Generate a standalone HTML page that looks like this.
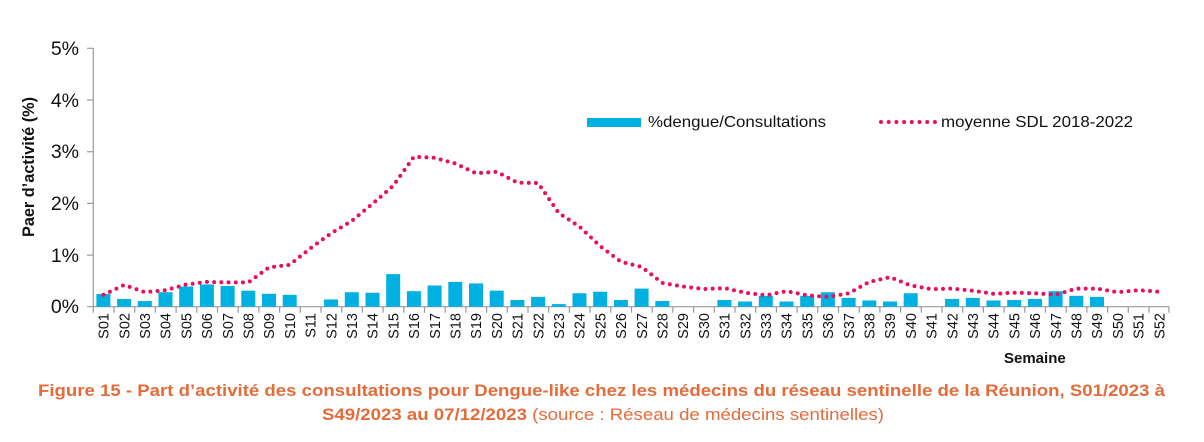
<!DOCTYPE html>
<html><head><meta charset="utf-8"><style>
html,body{margin:0;padding:0;background:#fff;}
svg{display:block;}
text{font-family:"Liberation Sans",sans-serif;}
</style></head><body>
<svg width="1204" height="442" viewBox="0 0 1204 442" xmlns="http://www.w3.org/2000/svg">
<g stroke="#9a9a9a" stroke-width="1.2" fill="none">
<line x1="93.3" y1="48" x2="93.3" y2="307"/>
<line x1="87" y1="48.3" x2="93.3" y2="48.3"/>
<line x1="87" y1="100" x2="93.3" y2="100"/>
<line x1="87" y1="151.7" x2="93.3" y2="151.7"/>
<line x1="87" y1="203.4" x2="93.3" y2="203.4"/>
<line x1="87" y1="255.1" x2="93.3" y2="255.1"/>
<line x1="87" y1="306.7" x2="1169" y2="306.7"/>
<path d="M93.3 306.7v6M114 306.7v6M134.7 306.7v6M155.4 306.7v6M176.1 306.7v6M196.8 306.7v6M217.5 306.7v6M238.2 306.7v6M258.9 306.7v6M279.6 306.7v6M300.3 306.7v6M321 306.7v6M341.7 306.7v6M362.4 306.7v6M383.1 306.7v6M403.8 306.7v6M424.5 306.7v6M445.2 306.7v6M465.9 306.7v6M486.6 306.7v6M507.3 306.7v6M528 306.7v6M548.7 306.7v6M569.4 306.7v6M590.1 306.7v6M610.8 306.7v6M631.5 306.7v6M652.2 306.7v6M672.9 306.7v6M693.6 306.7v6M714.3 306.7v6M735 306.7v6M755.7 306.7v6M776.4 306.7v6M797.1 306.7v6M817.8 306.7v6M838.5 306.7v6M859.2 306.7v6M879.9 306.7v6M900.6 306.7v6M921.3 306.7v6M942 306.7v6M962.7 306.7v6M983.4 306.7v6M1004.1 306.7v6M1024.8 306.7v6M1045.5 306.7v6M1066.2 306.7v6M1086.9 306.7v6M1107.6 306.7v6M1128.3 306.7v6M1149 306.7v6M1169 306.7v6"/>
</g>
<g font-size="19.5" fill="#111" text-anchor="end">
<text x="79" y="55">5%</text>
<text x="79" y="107">4%</text>
<text x="79" y="158">3%</text>
<text x="79" y="210">2%</text>
<text x="79" y="262">1%</text>
<text x="79" y="313">0%</text>
</g>
<text transform="translate(34,167) rotate(-90)" text-anchor="middle" font-size="16.5" font-weight="bold" fill="#111" textLength="140" lengthAdjust="spacingAndGlyphs">Paer d’activité (%)</text>
<g fill="#00B0E0" transform="translate(0,306.7) scale(1,-51.7)">
<rect x="96.4" width="14" height="0.245"/>
<rect x="117.1" width="14" height="0.15"/>
<rect x="137.8" width="14" height="0.11"/>
<rect x="158.5" width="14" height="0.28"/>
<rect x="179.2" width="14" height="0.39"/>
<rect x="199.9" width="14" height="0.43"/>
<rect x="220.6" width="14" height="0.40"/>
<rect x="241.3" width="14" height="0.31"/>
<rect x="262" width="14" height="0.25"/>
<rect x="282.7" width="14" height="0.23"/>
<rect x="324.1" width="14" height="0.14"/>
<rect x="344.8" width="14" height="0.28"/>
<rect x="365.5" width="14" height="0.27"/>
<rect x="386.2" width="14" height="0.63"/>
<rect x="406.9" width="14" height="0.30"/>
<rect x="427.6" width="14" height="0.41"/>
<rect x="448.3" width="14" height="0.48"/>
<rect x="469" width="14" height="0.45"/>
<rect x="489.7" width="14" height="0.31"/>
<rect x="510.4" width="14" height="0.13"/>
<rect x="531.1" width="14" height="0.19"/>
<rect x="551.8" width="14" height="0.05"/>
<rect x="572.5" width="14" height="0.26"/>
<rect x="593.2" width="14" height="0.29"/>
<rect x="613.9" width="14" height="0.13"/>
<rect x="634.6" width="14" height="0.35"/>
<rect x="655.3" width="14" height="0.11"/>
<rect x="717.4" width="14" height="0.13"/>
<rect x="738.1" width="14" height="0.10"/>
<rect x="758.8" width="14" height="0.21"/>
<rect x="779.5" width="14" height="0.10"/>
<rect x="800.2" width="14" height="0.21"/>
<rect x="820.9" width="14" height="0.28"/>
<rect x="841.6" width="14" height="0.17"/>
<rect x="862.3" width="14" height="0.12"/>
<rect x="883" width="14" height="0.10"/>
<rect x="903.7" width="14" height="0.26"/>
<rect x="945.1" width="14" height="0.15"/>
<rect x="965.8" width="14" height="0.17"/>
<rect x="986.5" width="14" height="0.12"/>
<rect x="1007.2" width="14" height="0.13"/>
<rect x="1027.9" width="14" height="0.15"/>
<rect x="1048.6" width="14" height="0.30"/>
<rect x="1069.3" width="14" height="0.21"/>
<rect x="1090" width="14" height="0.19"/>
</g>
<polyline fill="none" stroke="#E8105E" stroke-width="4" stroke-linecap="round" stroke-linejoin="round" stroke-dasharray="0 7.2" points="103.4,294.8 124.1,285 144.8,292.2 165.5,290.2 186.2,284.5 206.9,281.9 227.6,282.4 248.3,282.4 269,267.4 289.7,264.8 310.4,248.3 331.1,233.3 351.8,220.9 372.5,203.8 393.2,185.7 413.9,156.8 434.6,157.8 455.3,163.5 476,173.3 496.7,171.8 517.4,182.6 538.1,183.1 558.8,213.1 579.5,226.6 600.2,246.2 620.9,261.7 641.6,266.9 662.3,282.9 683,286.5 703.7,289.1 724.4,288.1 745.1,292.7 765.8,295.3 786.5,291.2 807.2,295.3 827.9,296.9 848.6,293.3 869.3,281.9 890,277.2 910.7,285.5 931.4,289.1 952.1,288.6 972.8,290.7 993.5,293.8 1014.2,292.7 1034.9,293.3 1055.6,294.8 1076.3,288.6 1097,288.6 1117.7,292.2 1138.4,290.2 1159.1,291.7"/>
<g font-size="14.5" fill="#111" text-anchor="end">
<text transform="translate(108.6,313) rotate(-90)">S01</text>
<text transform="translate(129.3,313) rotate(-90)">S02</text>
<text transform="translate(150,313) rotate(-90)">S03</text>
<text transform="translate(170.7,313) rotate(-90)">S04</text>
<text transform="translate(191.4,313) rotate(-90)">S05</text>
<text transform="translate(212.1,313) rotate(-90)">S06</text>
<text transform="translate(232.8,313) rotate(-90)">S07</text>
<text transform="translate(253.5,313) rotate(-90)">S08</text>
<text transform="translate(274.2,313) rotate(-90)">S09</text>
<text transform="translate(294.9,313) rotate(-90)">S10</text>
<text transform="translate(315.6,313) rotate(-90)">S11</text>
<text transform="translate(336.3,313) rotate(-90)">S12</text>
<text transform="translate(357,313) rotate(-90)">S13</text>
<text transform="translate(377.7,313) rotate(-90)">S14</text>
<text transform="translate(398.4,313) rotate(-90)">S15</text>
<text transform="translate(419.1,313) rotate(-90)">S16</text>
<text transform="translate(439.8,313) rotate(-90)">S17</text>
<text transform="translate(460.5,313) rotate(-90)">S18</text>
<text transform="translate(481.2,313) rotate(-90)">S19</text>
<text transform="translate(501.9,313) rotate(-90)">S20</text>
<text transform="translate(522.6,313) rotate(-90)">S21</text>
<text transform="translate(543.3,313) rotate(-90)">S22</text>
<text transform="translate(564,313) rotate(-90)">S23</text>
<text transform="translate(584.7,313) rotate(-90)">S24</text>
<text transform="translate(605.4,313) rotate(-90)">S25</text>
<text transform="translate(626.1,313) rotate(-90)">S26</text>
<text transform="translate(646.8,313) rotate(-90)">S27</text>
<text transform="translate(667.5,313) rotate(-90)">S28</text>
<text transform="translate(688.2,313) rotate(-90)">S29</text>
<text transform="translate(708.9,313) rotate(-90)">S30</text>
<text transform="translate(729.6,313) rotate(-90)">S31</text>
<text transform="translate(750.3,313) rotate(-90)">S32</text>
<text transform="translate(771,313) rotate(-90)">S33</text>
<text transform="translate(791.7,313) rotate(-90)">S34</text>
<text transform="translate(812.4,313) rotate(-90)">S35</text>
<text transform="translate(833.1,313) rotate(-90)">S36</text>
<text transform="translate(853.8,313) rotate(-90)">S37</text>
<text transform="translate(874.5,313) rotate(-90)">S38</text>
<text transform="translate(895.2,313) rotate(-90)">S39</text>
<text transform="translate(915.9,313) rotate(-90)">S40</text>
<text transform="translate(936.6,313) rotate(-90)">S41</text>
<text transform="translate(957.3,313) rotate(-90)">S42</text>
<text transform="translate(978,313) rotate(-90)">S43</text>
<text transform="translate(998.7,313) rotate(-90)">S44</text>
<text transform="translate(1019.4,313) rotate(-90)">S45</text>
<text transform="translate(1040.1,313) rotate(-90)">S46</text>
<text transform="translate(1060.8,313) rotate(-90)">S47</text>
<text transform="translate(1081.5,313) rotate(-90)">S48</text>
<text transform="translate(1102.2,313) rotate(-90)">S49</text>
<text transform="translate(1122.9,313) rotate(-90)">S50</text>
<text transform="translate(1143.6,313) rotate(-90)">S51</text>
<text transform="translate(1164.3,313) rotate(-90)">S52</text>
</g>
<text x="1004" y="363" font-size="15" font-weight="bold" fill="#111">Semaine</text>
<rect x="587" y="118" width="54" height="9" fill="#00B0E0"/>
<text x="648" y="127" font-size="16" fill="#111" textLength="178" lengthAdjust="spacingAndGlyphs">%dengue/Consultations</text>
<line x1="881" y1="122" x2="935" y2="122" stroke="#E8105E" stroke-width="4" stroke-linecap="round" stroke-dasharray="0 7.7"/>
<text x="941" y="127" font-size="16" fill="#111" textLength="192" lengthAdjust="spacingAndGlyphs">moyenne SDL 2018-2022</text>
<text x="38" y="396" font-size="16.5" font-weight="bold" fill="#E36C3A" textLength="1127" lengthAdjust="spacingAndGlyphs">Figure 15 - Part d’activité des consultations pour Dengue-like chez les médecins du réseau sentinelle de la Réunion, S01/2023 à</text>
<text x="322" y="420" font-size="16.5" fill="#E36C3A" textLength="562" lengthAdjust="spacingAndGlyphs"><tspan font-weight="bold">S49/2023 au 07/12/2023</tspan> (source : Réseau de médecins sentinelles)</text>
</svg>
</body></html>
